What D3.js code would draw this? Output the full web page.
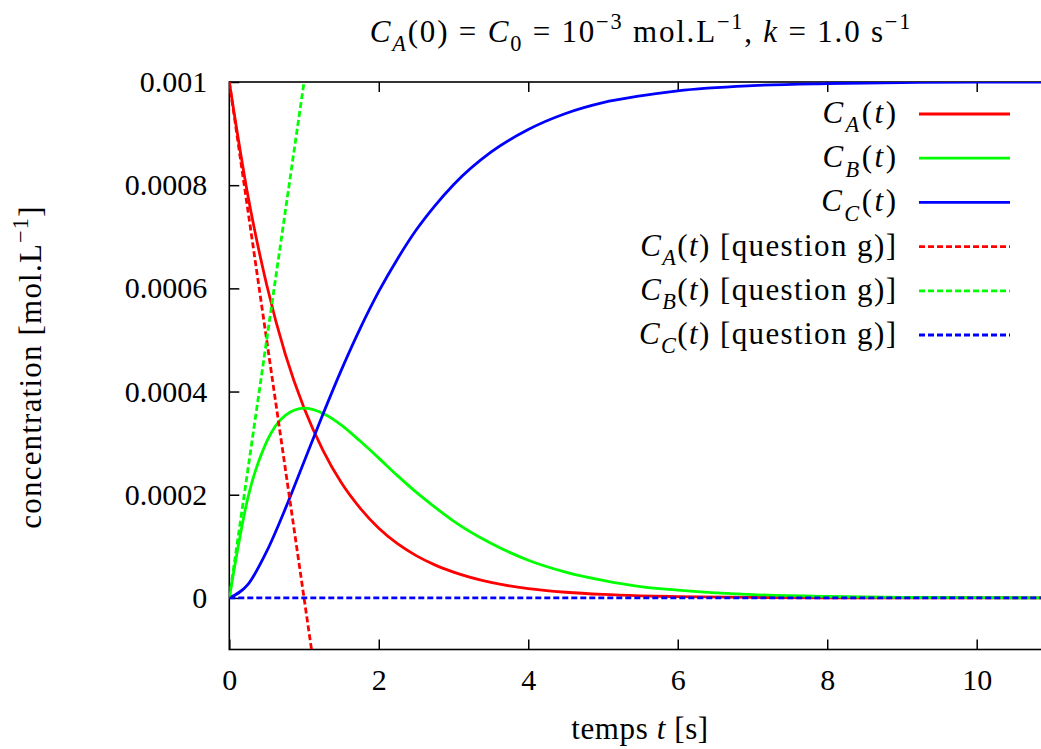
<!DOCTYPE html>
<html>
<head>
<meta charset="utf-8">
<script src="https://cdn.jsdelivr.net/npm/d3@7"></script>
<style>
body { margin: 0; background: #fff; }
svg text { font-family: "Liberation Serif", serif; white-space: pre; }
</style>
</head>
<body>
<svg id="chart"></svg>
<script>
// time samples [s] and concentrations [mol/L]
const times = [0, 0.25, 0.5, 0.75, 1, 1.25, 1.5, 1.75, 2, 2.25, 2.5, 2.75, 3,
    3.5, 4, 4.5, 5, 5.5, 6, 7, 8, 9, 10, 11];
const concA = [1.0e-3, 7.79e-4, 6.07e-4, 4.72e-4, 3.68e-4, 2.87e-4, 2.23e-4, 1.74e-4,
    1.35e-4, 1.05e-4, 8.2e-5, 6.4e-5, 5.0e-5, 3.0e-5, 1.8e-5, 1.1e-5, 6.7e-6, 4.1e-6,
    2.5e-6, 9e-7, 3e-7, 1e-7, 5e-8, 2e-8];
const concB = [0, 1.95e-4, 3.03e-4, 3.54e-4, 3.68e-4, 3.58e-4, 3.35e-4, 3.04e-4,
    2.71e-4, 2.37e-4, 2.05e-4, 1.76e-4, 1.49e-4, 1.06e-4, 7.3e-5, 5.0e-5, 3.4e-5, 2.2e-5,
    1.5e-5, 6.4e-6, 2.7e-6, 1.1e-6, 4.5e-7, 1.8e-7];
const concC = [0, 2.6e-5, 9.0e-5, 1.73e-4, 2.64e-4, 3.55e-4, 4.42e-4, 5.22e-4,
    5.94e-4, 6.57e-4, 7.13e-4, 7.60e-4, 8.01e-4, 8.64e-4, 9.08e-4, 9.39e-4, 9.60e-4, 9.73e-4,
    9.83e-4, 9.93e-4, 9.97e-4, 9.99e-4, 1.0e-3, 1.0e-3];

// short-time approximations (question g)
const approxTimesA = [0, 1.1];
const approxA = [1.0e-3, -1.0e-4];
const approxTimesB = [0, 1.1];
const approxB = [0, 1.1e-3];
const approxTimesC = [0, 11];
const approxC = [0, 0];

const xTicks = [0, 2, 4, 6, 8, 10];
const yTicks = [0, 0.0002, 0.0004, 0.0006, 0.0008, 0.001];
const yTickLabels = ["0", "0.0002", "0.0004", "0.0006", "0.0008", "0.001"];

const width = 1041, height = 749;
const plotLeft = 229.3, plotTop = 82, plotBottom = 649.5;
const fontSize = 30;
const labelSize = 31;
const serif = "Liberation Serif, serif";

const svg = d3.select("#chart")
    .attr("width", width)
    .attr("height", height);

const x = d3.scaleLinear().domain([0, 11]).range([plotLeft, plotLeft + 11 * 74.74]);
const y = d3.scaleLinear().domain([-0.0001, 0.001]).range([plotBottom, plotTop]);
const plotRight = x(11);

// rich text: parts are [string, style] with style among "", "i", "sub", "isub", "sup"
function richText(sel, parts, size) {
    let shift = 0;
    parts.forEach(([str, style]) => {
        let target = 0, fs = size;
        if (style.includes("sub")) { target = size * 0.3; fs = size * 0.72; }
        if (style.includes("sup")) { target = -size * 0.42; fs = size * 0.72; }
        sel.append("tspan")
            .attr("dy", target - shift)
            .attr("font-size", fs)
            .attr("font-style", style.includes("i") ? "italic" : "normal")
            .text(str);
        shift = target;
    });
}

svg.append("defs").append("clipPath")
    .attr("id", "plotClip")
    .append("rect")
    .attr("x", plotLeft).attr("y", plotTop)
    .attr("width", plotRight - plotLeft).attr("height", plotBottom - plotTop);

function styleAxis(g) {
    g.attr("font-family", serif).attr("font-size", fontSize);
    g.select(".domain").remove();
    g.selectAll("text").attr("font-family", serif).style("font-family", serif);
    g.selectAll("line").attr("stroke-width", 1.5);
}

// axes (ticks inward)
svg.append("g")
    .attr("transform", `translate(${plotLeft},0)`)
    .call(d3.axisLeft(y).tickValues(yTicks)
        .tickFormat((d, i) => yTickLabels[i])
        .tickSizeInner(-10).tickSizeOuter(0).tickPadding(22))
    .call(styleAxis);

svg.append("g")
    .attr("transform", `translate(0,${plotBottom})`)
    .call(d3.axisBottom(x).tickValues(xTicks)
        .tickSizeInner(-10).tickSizeOuter(0).tickPadding(19))
    .call(styleAxis);

svg.append("g")
    .attr("transform", `translate(0,${plotTop})`)
    .call(d3.axisTop(x).tickValues(xTicks).tickFormat("")
        .tickSizeInner(-10).tickSizeOuter(0))
    .call(styleAxis);

// frame
svg.append("rect")
    .attr("x", plotLeft).attr("y", plotTop)
    .attr("width", plotRight - plotLeft).attr("height", plotBottom - plotTop)
    .attr("fill", "none")
    .attr("stroke", "#000")
    .attr("stroke-width", 1.6);

const series = [
    {t: times, v: concA, color: "#ff0000", dash: null,
        label: [["C", "i"], ["A", "isub"], ["(", ""], ["t", "i"], [")", ""]]},
    {t: times, v: concB, color: "#00ff00", dash: null,
        label: [["C", "i"], ["B", "isub"], ["(", ""], ["t", "i"], [")", ""]]},
    {t: times, v: concC, color: "#0000ff", dash: null,
        label: [["C", "i"], ["C", "isub"], ["(", ""], ["t", "i"], [")", ""]]},
    {t: approxTimesA, v: approxA, color: "#ff0000", dash: "6,3",
        label: [["C", "i"], ["A", "isub"], ["(", ""], ["t", "i"], [") [question g)]", ""]]},
    {t: approxTimesB, v: approxB, color: "#00ff00", dash: "6,3",
        label: [["C", "i"], ["B", "isub"], ["(", ""], ["t", "i"], [") [question g)]", ""]]},
    {t: approxTimesC, v: approxC, color: "#0000ff", dash: "6,3",
        label: [["C", "i"], ["C", "isub"], ["(", ""], ["t", "i"], [") [question g)]", ""]]}
];

const line = d3.line()
    .x(d => x(d[0]))
    .y(d => y(d[1]))
    .curve(d3.curveMonotoneX);

const plot = svg.append("g").attr("clip-path", "url(#plotClip)");
series.forEach(s => {
    plot.append("path")
        .datum(s.t.map((t, i) => [t, s.v[i]]))
        .attr("d", line)
        .attr("fill", "none")
        .attr("stroke", s.color)
        .attr("stroke-width", 2.8)
        .attr("stroke-dasharray", s.dash);
});

// legend
const legend = svg.append("g");
series.forEach((s, i) => {
    const ly = 114 + i * 44.2;
    const ls = s.dash ? 1.4 : 2.5;
    const txt = legend.append("text")
        .attr("x", 896 + ls).attr("y", ly + 9)
        .attr("text-anchor", "end")
        .attr("letter-spacing", ls)
        .attr("font-size", labelSize);
    richText(txt, s.label, labelSize);
    legend.append("line")
        .attr("x1", 919).attr("x2", 1010)
        .attr("y1", ly).attr("y2", ly)
        .attr("stroke", s.color)
        .attr("stroke-width", 2.8)
        .attr("stroke-dasharray", s.dash);
});

// title and axis labels
const title = svg.append("text")
    .attr("x", 641).attr("y", 42)
    .attr("text-anchor", "middle")
    .attr("letter-spacing", 1.8)
    .attr("font-size", labelSize);
richText(title, [["C", "i"], ["A", "isub"], ["(0) = ", ""], ["C", "i"], ["0", "sub"],
    [" = 10", ""], ["\u22123", "sup"], [" mol.L", ""], ["\u22121", "sup"], [", ", ""],
    ["k", "i"], [" = 1.0 s", ""], ["\u22121", "sup"]], labelSize);

const xLabel = svg.append("text")
    .attr("x", 640).attr("y", 739)
    .attr("text-anchor", "middle")
    .attr("letter-spacing", 0.6)
    .attr("font-size", labelSize);
richText(xLabel, [["temps ", ""], ["t", "i"], [" [s]", ""]], labelSize);

const yLabel = svg.append("text")
    .attr("transform", "translate(41,367) rotate(-90)")
    .attr("text-anchor", "middle")
    .attr("letter-spacing", 1.2)
    .attr("font-size", labelSize);
richText(yLabel, [["concentration [mol.L", ""], ["\u22121", "sup"], ["]", ""]], labelSize);
</script>
</body>
</html>
